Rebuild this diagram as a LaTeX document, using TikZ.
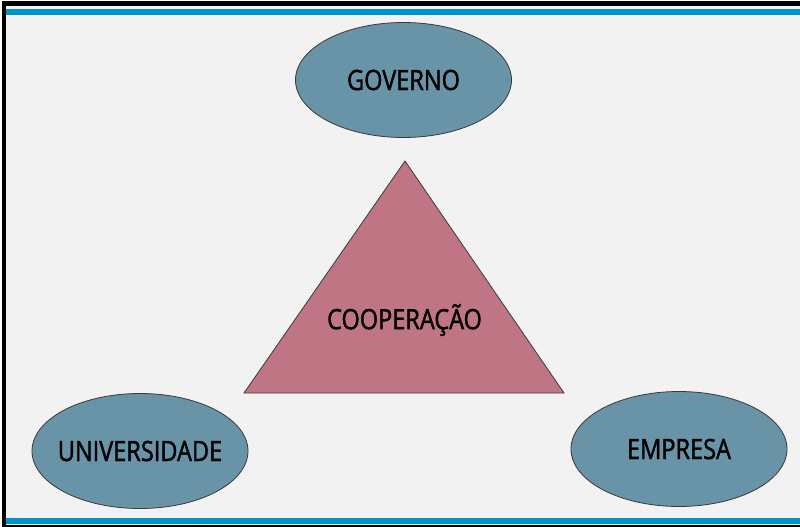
\documentclass[tikz,border=0pt]{standalone}
\usepackage{fontspec}
\setmainfont{Open Sans}[FakeStretch=0.84, FakeBold=1.4]
\usetikzlibrary{shapes.geometric}
\usetikzlibrary{positioning}

\definecolor{fundo}{HTML}{F2F2F2}
\definecolor{faixa}{HTML}{0094C8}
\definecolor{elipse}{HTML}{6993A6}
\definecolor{triang}{HTML}{C07585}
\definecolor{contorno}{HTML}{3A3A3A}

\tikzset{
    ator/.style={ellipse, draw=contorno, fill=elipse, line width=0.8pt,
        minimum width=216pt, minimum height=115pt, inner xsep=-8pt, inner ysep=0pt,
        font=\fontsize{28}{30}\selectfont},
    rotulo/.style={font=\fontsize{28}{30}\selectfont, inner sep=0pt}
}

\begin{document}
\begin{tikzpicture}[x=1pt, y=-1pt]
        \useasboundingbox (0,0) rectangle (800,527);
        \fill[white] (0,0) rectangle (800,527);
        \fill[fundo] (6,6) rectangle (800,525);
        \fill[black] (2,1) rectangle (800,6);
        \fill[black] (2,1) rectangle (6,527);
        \fill[black] (2,525) rectangle (800,527);
        \fill[faixa] (6,9.5) rectangle (800,15);
        \fill[faixa] (6,518) rectangle (800,524);

        \coordinate (topo) at (405,161);
        \coordinate (baseE) at (244,393);
        \coordinate (baseD) at (564,393);
        \draw[fill=triang, draw=contorno, line width=0.8pt] (topo) -- (baseE) -- (baseD) -- cycle;
        \node[rotulo] (coop) at (404.5,320) {COOPERAÇÃO};

        \node[ator] (gov) at (403.5,80) {GOVERNO};
        \node[ator] (univ) at (140,451) {UNIVERSIDADE};
        \node[ator] (emp) at (679,449) {EMPRESA};
    \end{tikzpicture}
\end{document}
